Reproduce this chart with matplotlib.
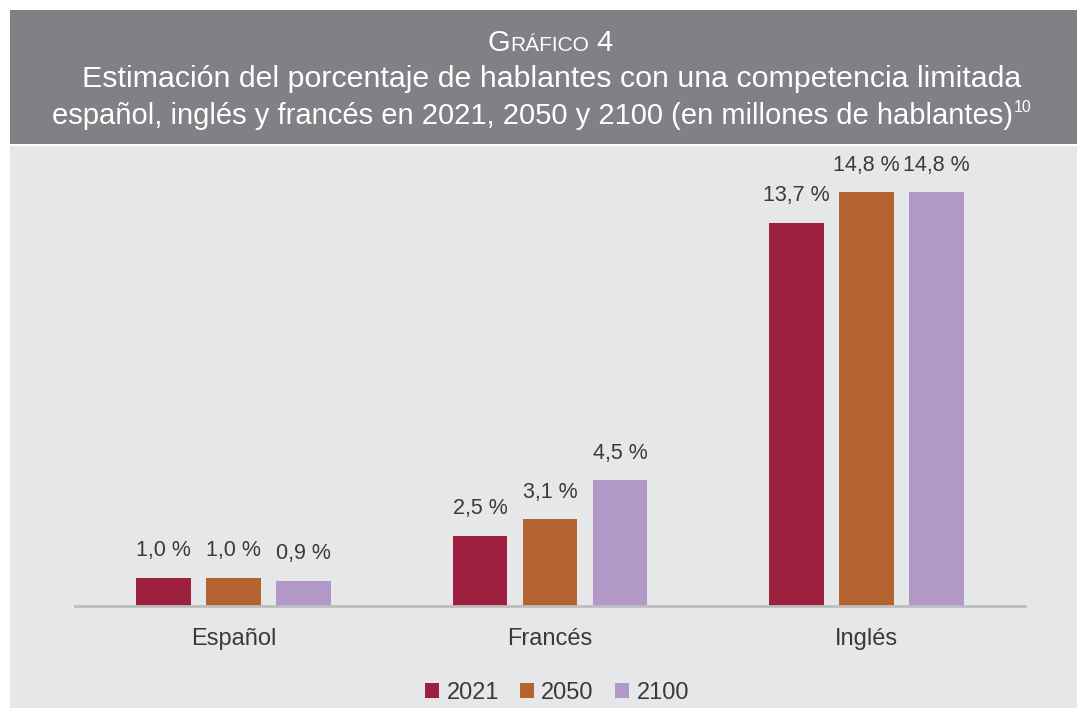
import matplotlib
matplotlib.use("Agg")
import matplotlib.pyplot as plt
from matplotlib.patches import Rectangle
import numpy as np

plt.rcParams['font.family'] = ['Liberation Sans', 'DejaVu Sans']

categories = ["Español", "Francés", "Inglés"]
years = ["2021", "2050", "2100"]
values = {
    "2021": [1.0, 2.5, 13.7],
    "2050": [1.0, 3.1, 14.8],
    "2100": [0.9, 4.5, 14.8],
}
labels = {
    "2021": ["1,0 %", "2,5 %", "13,7 %"],
    "2050": ["1,0 %", "3,1 %", "14,8 %"],
    "2100": ["0,9 %", "4,5 %", "14,8 %"],
}
colors = {"2021": "#9d203f", "2050": "#b4632f", "2100": "#b399c8"}

W, H = 1078, 709
fig = plt.figure(figsize=(W / 100, H / 100), dpi=100)
fig.patch.set_facecolor("white")

# background panels
fig.patches.append(Rectangle((10 / W, 1 - 144 / H), (1077 - 10) / W, (144 - 10) / H,
                             transform=fig.transFigure, facecolor="#808184", edgecolor="none", zorder=-5))
fig.patches.append(Rectangle((10 / W, 1 - 708 / H), (1077 - 10) / W, (708 - 146) / H,
                             transform=fig.transFigure, facecolor="#e6e7e8", edgecolor="none", zorder=-5))

# axes
base_px = 606
ppu = 27.96
ymax = 16
ax = fig.add_axes([75 / W, (H - base_px) / H, 950 / W, ymax * ppu / H])
ax.set_zorder(2)
ax.set_facecolor("none")
x = np.arange(len(categories))
bw = 0.1735
step = 0.221
for i, yr in enumerate(years):
    pos = x + (i - 1) * step
    bars = ax.bar(pos, values[yr], width=bw, color=colors[yr], label=yr, zorder=2)
    for b, lab in zip(bars, labels[yr]):
        ax.annotate(lab, (b.get_x() + b.get_width() / 2, b.get_height()),
                    xytext=(0, 12), textcoords="offset points", ha="center", va="bottom",
                    fontsize=15.5, color="#3a3a3a")
ax.set_xlim(-0.5, 2.5)
ax.set_ylim(0, ymax)
for s in ["top", "right", "left"]:
    ax.spines[s].set_visible(False)
ax.spines["bottom"].set_color("#bcbec0")
ax.spines["bottom"].set_linewidth(2)
ax.set_yticks([])
ax.set_xticks(x)
ax.set_xticklabels(categories, fontsize=17, color="#3a3a3a")
ax.tick_params(axis="x", length=0, pad=16)

leg = fig.legend(loc="center", bbox_to_anchor=(557 / W, 1 - 693 / H), ncol=3, frameon=False,
                 fontsize=17, handlelength=0.6, handleheight=0.6, handletextpad=0.3,
                 columnspacing=0.9, labelcolor="#3a3a3a")

# title
fig.canvas.draw()
r = fig.canvas.get_renderer()

def pieces(parts, y, cx):
    objs = [fig.text(0, y, t, fontsize=s, color="white", va="baseline", ha="left") for t, s in parts]
    widths = [o.get_window_extent(r).width for o in objs]
    total = sum(widths)
    xx = cx * W - total / 2
    for o, w in zip(objs, widths):
        o.set_x(xx / W)
        xx += w
    return objs

pieces([("G", 21), ("RÁFICO", 15), (" 4", 21)], 1 - 51 / H, 550 / W)
l2 = fig.text(552 / W, 1 - 87 / H, "Estimación del porcentaje de hablantes con una competencia limitada",
              fontsize=21.9, color="white", ha="center", va="baseline")
l3 = fig.text(0, 1 - 124 / H, "español, inglés y francés en 2021, 2050 y 2100 (en millones de hablantes)",
              fontsize=21.0, color="white", ha="left", va="baseline")
sup = fig.text(0, 1 - 112 / H, "10", fontsize=11.5, color="white", ha="left", va="baseline")
w3 = l3.get_window_extent(r).width
ws = sup.get_window_extent(r).width
start = 541 - (w3 + ws) / 2
l3.set_x(start / W)
sup.set_x((start + w3 + 1) / W)

fig.savefig("out.png", dpi=100, facecolor="white")
